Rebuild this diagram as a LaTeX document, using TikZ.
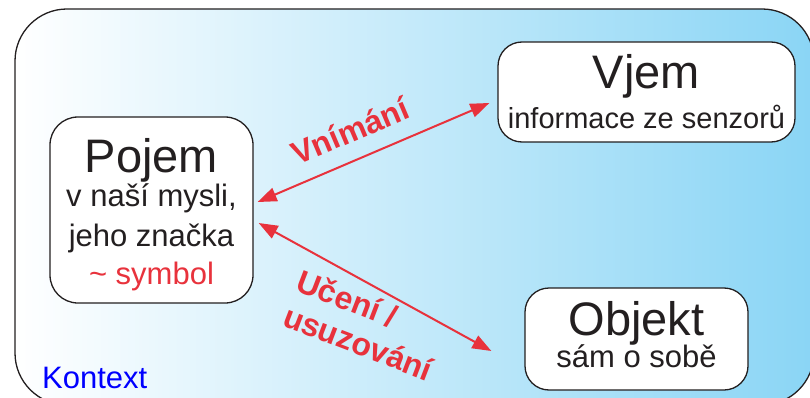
\documentclass[tikz,border=0pt]{standalone}
\usepackage{fontspec}
\setmainfont{Liberation Sans}
\usetikzlibrary{arrows.meta}
\definecolor{linkred}{RGB}{232,50,60}
\definecolor{skyblue}{RGB}{138,213,245}
\definecolor{inkgray}{RGB}{35,31,32}
\newcommand\headfont{\fontsize{47}{52}\selectfont}
\newcommand\bodyfont{\fontsize{31}{38}\selectfont}
\begin{document}
\begin{tikzpicture}[
    x=1pt, y=-1pt,
    concept/.style={rectangle, draw=inkgray, line width=1.3pt, fill=white, text=inkgray, rounded corners=28pt, align=center, font=\bodyfont},
    link/.style={{Triangle[length=19pt,width=14pt]}-{Triangle[length=19pt,width=14pt]}, draw=linkred, fill=linkred, line width=2pt},
    linklabel/.style={text=linkred, font=\fontsize{32}{37}\selectfont\bfseries, align=left},
]
\useasboundingbox (0,0) rectangle (810,398);

% context background
\begin{scope}
\clip (0,0) rectangle (810,398);
\shade[left color=white, right color=skyblue, draw=inkgray, line width=1.3pt, rounded corners=52pt] (15,9) rectangle (814,405);
\end{scope}

\node[concept, minimum width=203, minimum height=186] (pojem) at (151.5,210)
    {\rule{0pt}{44pt}{\headfont Pojem}\\[-4pt] v naší mysli,\\[2pt] jeho značka\\ \textcolor{linkred}{\textasciitilde\ symbol}};
\node[concept, minimum width=297, minimum height=100, rounded corners=24pt] (vjem) at (646.5,92)
    {{\headfont Vjem}\\[2pt] {\fontsize{29}{36}\selectfont informace ze senzorů}};
\node[concept, minimum width=223, minimum height=102, rounded corners=24pt] (objekt) at (636.5,339)
    {{\headfont Objekt}\\[-6pt] sám o sobě\rule[-10pt]{0pt}{10pt}};

\draw[link] ([xshift=4pt,yshift=8pt]pojem.east) -- ([xshift=-8pt,yshift=-11pt]vjem.west);
\draw[link] ([xshift=5pt,yshift=-13pt]pojem.east) -- ([xshift=-33pt,yshift=-12pt]objekt.west);

\node[linklabel, rotate=23] (vnimani) at (350,131) {Vnímání};
\node[linklabel, rotate=-21] (uceni) at (365,325) {Učení /\\usuzování};

\node[anchor=base west, text=blue, font=\bodyfont, inner sep=0pt] (kontext) at (42,388) {Kontext};
\end{tikzpicture}
\end{document}
